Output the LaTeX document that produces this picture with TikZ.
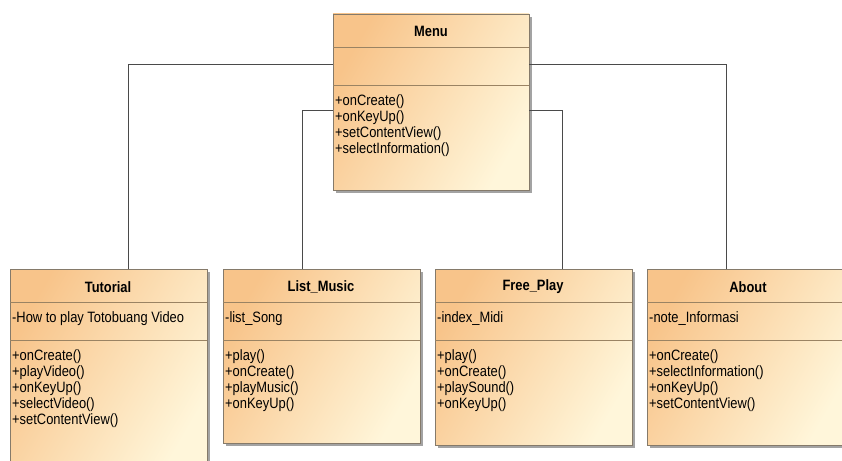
\documentclass[tikz,border=0pt]{standalone}
\usepackage{fontspec}
\setmainfont[FakeStretch=0.86]{Liberation Sans}
\usetikzlibrary{shadows,calc}

\definecolor{umlorange}{HTML}{F8C48A}
\definecolor{umlpale}{HTML}{FFF6DA}
\definecolor{umledge}{HTML}{857A6A}
\definecolor{umldiv}{HTML}{9A8363}
\definecolor{wire}{HTML}{4A4A4A}

\tikzset{
  classbox/.style={draw=umledge, line width=0.8pt, anchor=north west,
    inner sep=0pt, outer sep=0pt,
    left color=umlorange, right color=umlpale, shading angle=60,
    drop shadow={shadow xshift=3pt, shadow yshift=-3pt, fill=black!45, opacity=0.8}},
  divider/.style={draw=umldiv, line width=0.9pt},
  ctitle/.style={font=\fontsize{15}{15}\selectfont\bfseries, inner sep=0pt},
  cattr/.style={font=\fontsize{15}{15}\selectfont, inner sep=0pt, anchor=west},
  cops/.style={font=\fontsize{15}{16}\selectfont, inner sep=0pt, anchor=north west, align=left},
  wireline/.style={draw=wire, line width=1pt}
}

\begin{document}
\begin{tikzpicture}[x=1pt, y=-1pt]
\useasboundingbox (0,0) rectangle (842,460);
\begin{scope}
\clip (0,0) rectangle (842,460);

% class boxes
\node[classbox, minimum width=196pt, minimum height=176pt] (menu) at (333,14) {};
\node[classbox, minimum width=197pt, minimum height=200pt] (tutorial) at (10,269) {};
\node[classbox, minimum width=197pt, minimum height=174pt] (listmusic) at (223,269) {};
\node[classbox, minimum width=197pt, minimum height=176pt] (freeplay) at (435,269) {};
\node[classbox, minimum width=202pt, minimum height=176pt] (about) at (647,269) {};

% compartment dividers
\foreach \c/\a/\b in {menu/33/71, tutorial/33/71, listmusic/33/71, freeplay/33/71, about/33/71}{
  \draw[divider] ([yshift=-\a pt]\c.north west) -- ([yshift=-\a pt]\c.north east);
  \draw[divider] ([yshift=-\b pt]\c.north west) -- ([yshift=-\b pt]\c.north east);
}

% connectors to Menu
\draw[wireline] ([xshift=20pt]tutorial.north) |- ([yshift=-50pt]menu.north west);
\draw[wireline] ([xshift=-19.5pt]listmusic.north) |- ([yshift=-96pt]menu.north west);
\draw[wireline] ([xshift=28.5pt]freeplay.north) |- ([yshift=-96pt]menu.north east);
\draw[wireline] ([xshift=-22pt]about.north) |- ([yshift=-50pt]menu.north east);

% Menu
\node[ctitle] (menu-name) at (431,31) {Menu};
\node[cops] (menu-ops) at (335,94) {+onCreate()\\+onKeyUp()\\+setContentView()\\+selectInformation()};

% Tutorial
\node[ctitle] (tutorial-name) at (108,287) {Tutorial};
\node[cattr] (tutorial-attr) at (12,319) {-How to play Totobuang Video};
\node[cops] (tutorial-ops) at (12,349) {+onCreate()\\+playVideo()\\+onKeyUp()\\+selectVideo()\\+setContentView()};

% List_Music
\node[ctitle] (listmusic-name) at (321,287) {List\_Music};
\node[cattr] (listmusic-attr) at (225,319) {-list\_Song};
\node[cops] (listmusic-ops) at (225,349) {+play()\\+onCreate()\\+playMusic()\\+onKeyUp()};

% Free_Play
\node[ctitle] (freeplay-name) at (533,287) {Free\_Play};
\node[cattr] (freeplay-attr) at (437,319) {-index\_Midi};
\node[cops] (freeplay-ops) at (437,349) {+play()\\+onCreate()\\+playSound()\\+onKeyUp()};

% About
\node[ctitle] (about-name) at (748,287) {About};
\node[cattr] (about-attr) at (649,319) {-note\_Informasi};
\node[cops] (about-ops) at (649,349) {+onCreate()\\+selectInformation()\\+onKeyUp()\\+setContentView()};
\end{scope}
\end{tikzpicture}
\end{document}
